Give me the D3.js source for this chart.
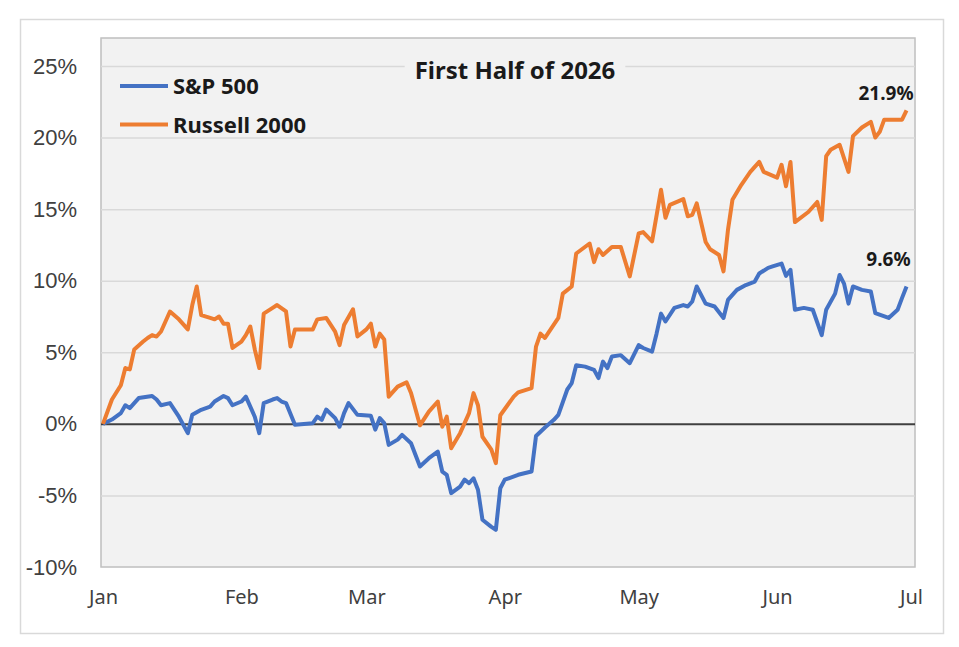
<!DOCTYPE html>
<html>
<head>
<meta charset="utf-8">
<script src="https://cdn.jsdelivr.net/npm/d3@7"></script>
<style>
  html, body { margin: 0; padding: 0; background: #fff; }
  svg { display: block; }
</style>
</head>
<body>
<div id="chart"></div>
<script>
// Data (cumulative % change since Jan 1)
const spDates = [
  "2026-01-01","2026-01-03","2026-01-05","2026-01-06","2026-01-07","2026-01-09","2026-01-12","2026-01-13",
  "2026-01-14","2026-01-16","2026-01-18","2026-01-20","2026-01-21","2026-01-23","2026-01-25","2026-01-26",
  "2026-01-28","2026-01-29","2026-01-30","2026-02-01","2026-02-02","2026-02-04","2026-02-05","2026-02-06",
  "2026-02-08","2026-02-09","2026-02-10","2026-02-11","2026-02-13","2026-02-17","2026-02-18","2026-02-19",
  "2026-02-20","2026-02-22","2026-02-23","2026-02-24","2026-02-25","2026-02-27","2026-03-02","2026-03-03",
  "2026-03-04","2026-03-05","2026-03-06","2026-03-08","2026-03-09","2026-03-11","2026-03-13","2026-03-15",
  "2026-03-17","2026-03-18","2026-03-19","2026-03-20","2026-03-22","2026-03-23","2026-03-24","2026-03-25",
  "2026-03-26","2026-03-27","2026-03-29","2026-03-30","2026-03-31","2026-04-01","2026-04-04","2026-04-07",
  "2026-04-08","2026-04-10","2026-04-12","2026-04-13","2026-04-15","2026-04-16","2026-04-17","2026-04-19",
  "2026-04-21","2026-04-22","2026-04-23","2026-04-24","2026-04-25","2026-04-27","2026-04-29","2026-05-01",
  "2026-05-02","2026-05-04","2026-05-05","2026-05-06","2026-05-07","2026-05-09","2026-05-11","2026-05-12",
  "2026-05-13","2026-05-14","2026-05-16","2026-05-18","2026-05-20","2026-05-21","2026-05-23","2026-05-25",
  "2026-05-27","2026-05-28","2026-05-30","2026-05-31","2026-06-02","2026-06-03","2026-06-04","2026-06-05",
  "2026-06-07","2026-06-09","2026-06-11","2026-06-12","2026-06-14","2026-06-15","2026-06-16","2026-06-17",
  "2026-06-18","2026-06-20","2026-06-22","2026-06-23","2026-06-26","2026-06-28","2026-06-29","2026-06-30"
];
const spValues = [
  0, 0.3, 0.75, 1.3, 1.1, 1.8, 1.95, 1.7,
  1.3, 1.45, 0.5, -0.65, 0.63, 0.98, 1.2, 1.56,
  1.95, 1.8, 1.3, 1.56, 1.9, 0.5, -0.65, 1.45,
  1.7, 1.8, 1.56, 1.45, -0.07, 0.05, 0.5, 0.28,
  1.0, 0.4, -0.2, 0.75, 1.45, 0.63, 0.56, -0.4,
  0.4, 0.05, -1.47, -1.1, -0.77, -1.35, -2.98, -2.4,
  -1.94, -3.33, -3.56, -4.84, -4.38, -3.9, -4.15, -3.8,
  -4.6, -6.7, -7.2, -7.4, -4.5, -3.9, -3.56, -3.33,
  -0.85, -0.25, 0.28, 0.63, 2.4, 2.85, 4.1, 4.0,
  3.77, 3.2, 4.35, 3.9, 4.7, 4.8, 4.24, 5.5,
  5.3, 5.05, 6.3, 7.7, 7.15, 8.1, 8.3, 8.2,
  8.55, 9.6, 8.4, 8.2, 7.4, 8.66, 9.36, 9.7,
  9.94, 10.5, 10.9, 11.0, 11.2, 10.34, 10.76, 7.97,
  8.1, 7.97, 6.2, 7.97, 9.1, 10.4, 9.8, 8.4,
  9.6, 9.36, 9.25, 7.74, 7.4, 7.97, 8.8, 9.6
];

const rutDates = [
  "2026-01-01","2026-01-03","2026-01-05","2026-01-06","2026-01-07","2026-01-08","2026-01-10","2026-01-11",
  "2026-01-12","2026-01-13","2026-01-14","2026-01-16","2026-01-18","2026-01-20","2026-01-21","2026-01-22",
  "2026-01-23","2026-01-25","2026-01-26","2026-01-27","2026-01-28","2026-01-29","2026-01-30","2026-02-01",
  "2026-02-02","2026-02-03","2026-02-04","2026-02-05","2026-02-06","2026-02-08","2026-02-09","2026-02-11",
  "2026-02-12","2026-02-13","2026-02-17","2026-02-18","2026-02-20","2026-02-22","2026-02-23","2026-02-24",
  "2026-02-26","2026-02-27","2026-03-01","2026-03-02","2026-03-03","2026-03-04","2026-03-05","2026-03-06",
  "2026-03-08","2026-03-10","2026-03-11","2026-03-13","2026-03-15","2026-03-17","2026-03-18","2026-03-19",
  "2026-03-20","2026-03-22","2026-03-24","2026-03-25","2026-03-26","2026-03-27","2026-03-29","2026-03-30",
  "2026-03-31","2026-04-03","2026-04-04","2026-04-07","2026-04-08","2026-04-09","2026-04-10","2026-04-13",
  "2026-04-14","2026-04-16","2026-04-17","2026-04-20","2026-04-21","2026-04-22","2026-04-23","2026-04-25",
  "2026-04-27","2026-04-29","2026-05-01","2026-05-02","2026-05-04","2026-05-06","2026-05-07","2026-05-08",
  "2026-05-11","2026-05-12","2026-05-13","2026-05-14","2026-05-16","2026-05-17","2026-05-19","2026-05-20",
  "2026-05-21","2026-05-22","2026-05-24","2026-05-26","2026-05-28","2026-05-29","2026-06-01","2026-06-02",
  "2026-06-03","2026-06-04","2026-06-05","2026-06-08","2026-06-10","2026-06-11","2026-06-12","2026-06-13",
  "2026-06-15","2026-06-17","2026-06-18","2026-06-20","2026-06-22","2026-06-23","2026-06-24","2026-06-25",
  "2026-06-29","2026-06-30"
];
const rutValues = [
  0, 1.7, 2.7, 3.9, 3.8, 5.2, 5.75, 6.0,
  6.2, 6.1, 6.45, 7.85, 7.3, 6.6, 8.3, 9.6,
  7.6, 7.4, 7.3, 7.5, 7.0, 7.0, 5.3, 5.75,
  6.2, 6.8, 5.2, 3.9, 7.7, 8.1, 8.3, 7.85,
  5.4, 6.6, 6.6, 7.3, 7.4, 6.45, 5.5, 6.9,
  8.0, 6.1, 6.6, 7.0, 5.4, 6.3, 5.9, 1.9,
  2.6, 2.9, 2.15, -0.1, 0.86, 1.56, -0.2, 0.5,
  -1.7, -0.65, 0.75, 2.15, 1.3, -0.9, -1.8, -2.75,
  0.6, 1.9, 2.2, 2.5, 5.4, 6.3, 6.0, 7.4,
  9.1, 9.6, 11.9, 12.6, 11.3, 12.2, 11.8, 12.35,
  12.35, 10.3, 13.3, 13.4, 12.75, 16.35, 14.4, 15.3,
  15.7, 14.5, 14.6, 15.4, 12.7, 12.2, 11.8, 10.65,
  13.55, 15.65, 16.7, 17.6, 18.3, 17.6, 17.2, 18.1,
  16.6, 18.3, 14.1, 14.8, 15.5, 14.25, 18.7, 19.15,
  19.5, 17.6, 20.1, 20.7, 21.1, 20.0, 20.4, 21.25,
  21.25, 21.9
];

const yTicks = [-10, -5, 0, 5, 10, 15, 20, 25];
const monthTicks = ["2026-01-01","2026-02-01","2026-03-01","2026-04-01","2026-05-01","2026-06-01","2026-07-01"];
const monthLabels = ["Jan","Feb","Mar","Apr","May","Jun","Jul"];

const seriesNames = ["S&P 500", "Russell 2000"];
const seriesColors = ["#4472C4", "#ED7D31"];
const chartTitle = "First Half of 2026";

const W = 959, H = 647;
const parse = d3.utcParse("%Y-%m-%d");

const svg = d3.select("#chart").append("svg")
    .attr("width", W)
    .attr("height", H);

// chart area (white with light border)
svg.append("rect")
    .attr("x", 20.5).attr("y", 19.5)
    .attr("width", 923).attr("height", 614)
    .attr("fill", "#fff")
    .attr("stroke", "#d9d9d9")
    .attr("stroke-width", 1.5);

// plot area
const plot = { left: 101, right: 915, top: 38, bottom: 567 };
svg.append("rect")
    .attr("x", plot.left).attr("y", plot.top)
    .attr("width", plot.right - plot.left).attr("height", plot.bottom - plot.top)
    .attr("fill", "#f2f2f2")
    .attr("stroke", "#bfbfbf")
    .attr("stroke-width", 1.5);

const x = d3.scaleUtc()
    .domain([parse(monthTicks[0]), parse(monthTicks[monthTicks.length - 1])])
    .range([103, 911]);

const y = d3.scaleLinear()
    .domain([-10, 25])
    .range([567, 66]);

// y gridlines + labels
const yAxis = svg.append("g")
    .attr("transform", `translate(${plot.left},0)`)
    .call(d3.axisLeft(y)
        .tickValues(yTicks)
        .tickSize(-(plot.right - plot.left))
        .tickPadding(24)
        .tickFormat(d => d + "%"));
yAxis.select(".domain").remove();
yAxis.selectAll(".tick line")
    .attr("stroke", d => d === 0 ? "#404040" : "#d9d9d9")
    .attr("stroke-width", d => d === 0 ? 2 : 1.5)
    .attr("opacity", d => d === -10 ? 0 : 1);
yAxis.selectAll(".tick text")
    .attr("fill", "#404040")
    .style("font-family", "'Liberation Sans', Arial, sans-serif")
    .style("font-size", "22px");

// x labels
const xAxis = svg.append("g")
    .attr("transform", `translate(0,${plot.bottom})`)
    .call(d3.axisBottom(x)
        .tickValues(monthTicks.map(parse))
        .tickSize(0)
        .tickPadding(23)
        .tickFormat((d, i) => monthLabels[i]));
xAxis.select(".domain").remove();
xAxis.selectAll(".tick text")
    .attr("fill", "#404040")
    .style("font-family", "'Noto Sans', sans-serif")
    .style("font-size", "20px");

// title with plot-coloured backing that hides the gridline
const title = svg.append("g");
const titleText = title.append("text")
    .attr("x", 515).attr("y", 79)
    .attr("text-anchor", "middle")
    .attr("fill", "#1a1a1a")
    .style("font-family", "'Noto Sans', sans-serif")
    .style("font-weight", "bold")
    .style("font-size", "24px")
    .text(chartTitle);
const tb = titleText.node().getBBox();
title.insert("rect", "text")
    .attr("x", tb.x - 10).attr("y", tb.y - 4)
    .attr("width", tb.width + 20).attr("height", tb.height + 8)
    .attr("fill", "#f2f2f2");

// lines
const line = d3.line()
    .x(d => x(d.date))
    .y(d => y(d.value));

const spData = spDates.map((d, i) => ({ date: parse(d), value: spValues[i] }));
const rutData = rutDates.map((d, i) => ({ date: parse(d), value: rutValues[i] }));

[spData, rutData].forEach((data, i) => {
    svg.append("path")
        .datum(data)
        .attr("fill", "none")
        .attr("stroke", seriesColors[i])
        .attr("stroke-width", 4)
        .attr("stroke-linejoin", "round")
        .attr("d", line);
});

// end labels
const endLabels = [
    { d: rutData[rutData.length - 1], dx: 7, dy: -10 },
    { d: spData[spData.length - 1], dx: 4, dy: -20 }
];
svg.selectAll(".end-label")
    .data(endLabels)
    .enter().append("text")
    .attr("class", "end-label")
    .attr("x", d => x(d.d.date) + d.dx)
    .attr("y", d => y(d.d.value) + d.dy)
    .attr("text-anchor", "end")
    .attr("fill", "#1a1a1a")
    .style("font-family", "'Noto Sans', sans-serif")
    .style("font-weight", "bold")
    .style("font-size", "19px")
    .text(d => d.d.value.toFixed(1) + "%");

// legend
const legend = svg.append("g")
    .attr("transform", "translate(120,86)");
const legendItems = legend.selectAll(".legend-item")
    .data(seriesNames)
    .enter().append("g")
    .attr("class", "legend-item")
    .attr("transform", (d, i) => `translate(0,${i * 38.5})`);
legendItems.append("line")
    .attr("x1", 0).attr("x2", 48)
    .attr("stroke", (d, i) => seriesColors[i])
    .attr("stroke-width", 4);
legendItems.append("text")
    .attr("x", 53)
    .attr("y", 8)
    .attr("fill", "#1a1a1a")
    .style("font-family", "'Noto Sans', sans-serif")
    .style("font-weight", "bold")
    .style("font-size", "22px")
    .text(d => d);
</script>
</body>
</html>
